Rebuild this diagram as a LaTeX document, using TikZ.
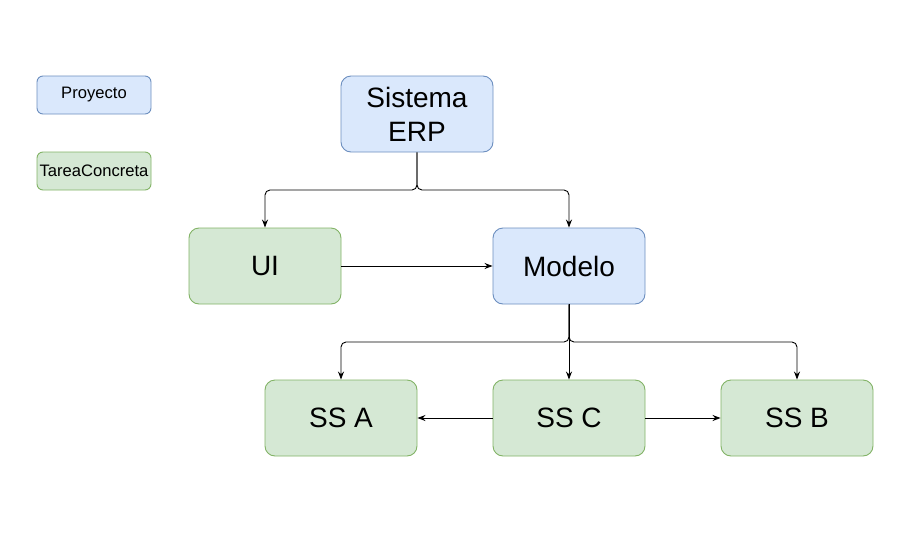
\documentclass[tikz,border=0pt]{standalone}
\usepackage{fontspec}
\setmainfont{Liberation Sans}
\usetikzlibrary{arrows.meta}
\definecolor{bfill}{HTML}{DAE8FC}
\definecolor{bdraw}{HTML}{6C8EBF}
\definecolor{gfill}{HTML}{D5E8D4}
\definecolor{gdraw}{HTML}{82B366}
\begin{document}
\begin{tikzpicture}[x=1pt,y=-1pt,
  big/.style={rectangle,rounded corners=10pt,minimum width=152pt,minimum height=76pt,inner sep=0pt,line width=0.9pt,align=center,font=\fontsize{28}{34}\selectfont},
  small/.style={rectangle,rounded corners=6pt,minimum width=114pt,minimum height=38pt,inner sep=0pt,line width=0.9pt,font=\fontsize{16.6}{19}\selectfont},
  blue/.style={fill=bfill,draw=bdraw},
  green/.style={fill=gfill,draw=gdraw},
  conn/.style={line width=0.9pt,rounded corners=5pt,-{Stealth[length=8pt,width=6pt]}}]
\useasboundingbox (0,0) rectangle (914,536);
\node[small,blue] (proy) at (94,95) {Proyecto};
\node[small,green] (tarea) at (94,171) {TareaConcreta};
\node[big,blue] (sis) at (417,114) {Sistema\\ERP};
\node[big,green] (ui) at (265,266) {UI};
\node[big,blue] (mod) at (569,266) {Modelo};
\node[big,green] (ssa) at (341,418) {SS A};
\node[big,green] (ssc) at (569,418) {SS C};
\node[big,green] (ssb) at (797,418) {SS B};
\coordinate (j1) at (417,190);
\coordinate (j2) at (569,342);
\draw[conn] (sis.south) -- (j1) -| (ui.north);
\draw[conn] (sis.south) -- (j1) -| (mod.north);
\draw[conn] (ui.east) -- (mod.west);
\draw[conn] (mod.south) -- (j2) -| (ssa.north);
\draw[conn] (mod.south) -- (ssc.north);
\draw[conn] (mod.south) -- (j2) -| (ssb.north);
\draw[conn] (ssc.west) -- (ssa.east);
\draw[conn] (ssc.east) -- (ssb.west);
\end{tikzpicture}
\end{document}
